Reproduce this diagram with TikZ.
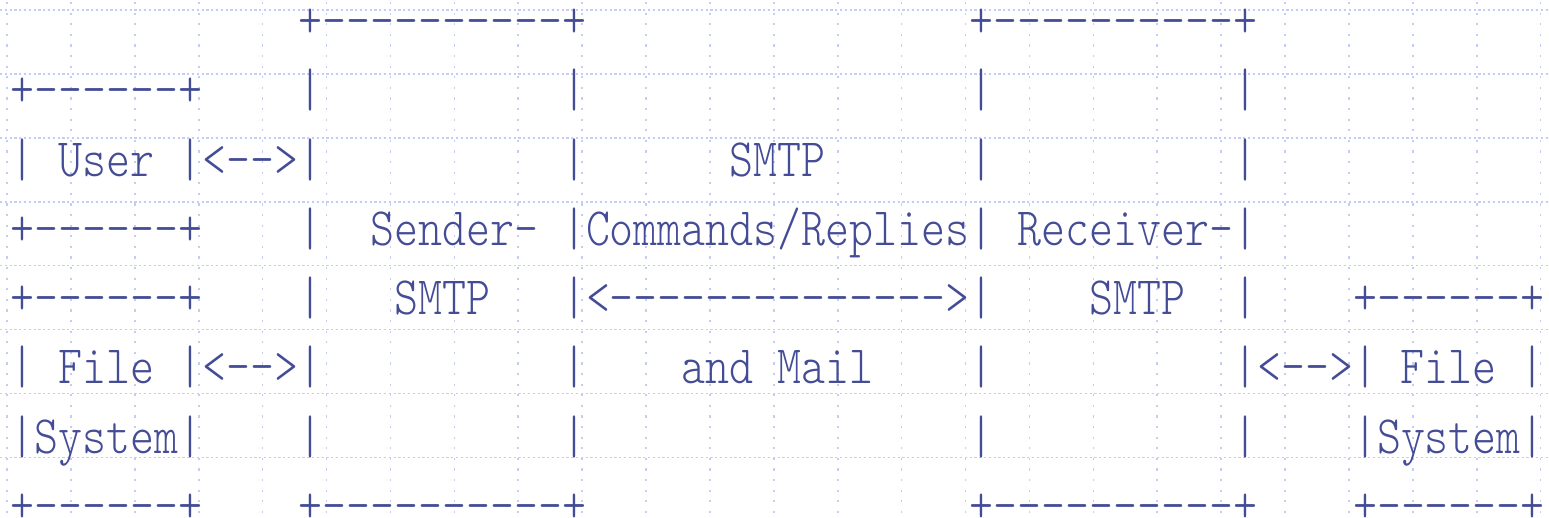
\documentclass[tikz,border=0pt]{standalone}
\usepackage{fontspec}
\setmonofont[FakeStretch=0.846]{lmmonolt10-regular.otf}
\definecolor{ink}{RGB}{68,76,150}
\definecolor{gridc}{RGB}{196,206,244}
\tikzset{
  asc/.style={anchor=base west, inner sep=0pt, outer sep=0pt, text=ink, font=\ttfamily\fontsize{54}{60}\selectfont},
  hgrid/.style={draw=gridc, line width=1.6pt, dash pattern=on 2.2pt off 2.6pt},
  vgrid/.style={draw=gridc, line width=1.6pt, dash pattern=on 2.2pt off 8.4pt}
}
\newcommand{\cx}[1]{10.7+#1*23.97}
\newcommand{\ry}[1]{37.4+#1*69.3}
\begin{document}
\begin{tikzpicture}[x=1pt,y=-1pt]
\useasboundingbox (0,0) rectangle (1549,517);
% dotted grid
\foreach \i in {0,...,7} { \draw[hgrid] (0,{10+\i*63.9}) -- (1549,{10+\i*63.9}); }
\foreach \j in {0,...,24} { \draw[vgrid] ({7+\j*63.9},2) -- ({7+\j*63.9},517); }
% ASCII art, each segment placed in its character cell (row/column)
\foreach \r/\c/\t in {
  0/12/{+----------+}, 0/40/{+----------+},
  1/0/{+------+}, 1/12/{|}, 1/23/{|}, 1/40/{|}, 1/51/{|},
  2/0/{|}, 2/2/{User}, 2/7/{|<-->|}, 2/23/{|}, 2/30/{SMTP}, 2/40/{|}, 2/51/{|},
  3/0/{+------+}, 3/12/{|}, 3/15/{Sender-}, 3/42/{Receiver-|},
  4/0/{+------+}, 4/12/{|}, 4/16/{SMTP}, 4/23/{|<-------------->|}, 4/45/{SMTP}, 4/51/{|}, 4/56/{+------+},
  5/0/{|}, 5/2/{File}, 5/7/{|<-->|}, 5/23/{|}, 5/28/{and}, 5/32/{Mail}, 5/40/{|}, 5/51/{|<-->|}, 5/58/{File}, 5/63/{|},
  6/0/{|System|}, 6/12/{|}, 6/23/{|}, 6/40/{|}, 6/51/{|}, 6/56/{|System|},
  7/0/{+------+}, 7/12/{+----------+}, 7/40/{+----------+}, 7/56/{+------+}
}{
  \node[asc] (s\r-\c) at ({\cx{\c}},{\ry{\r}}) {\t};
}
\node[asc] (s3-23) at ({\cx{23}},{\ry{3}}) {|Commands/Replies|};
\end{tikzpicture}
\end{document}
